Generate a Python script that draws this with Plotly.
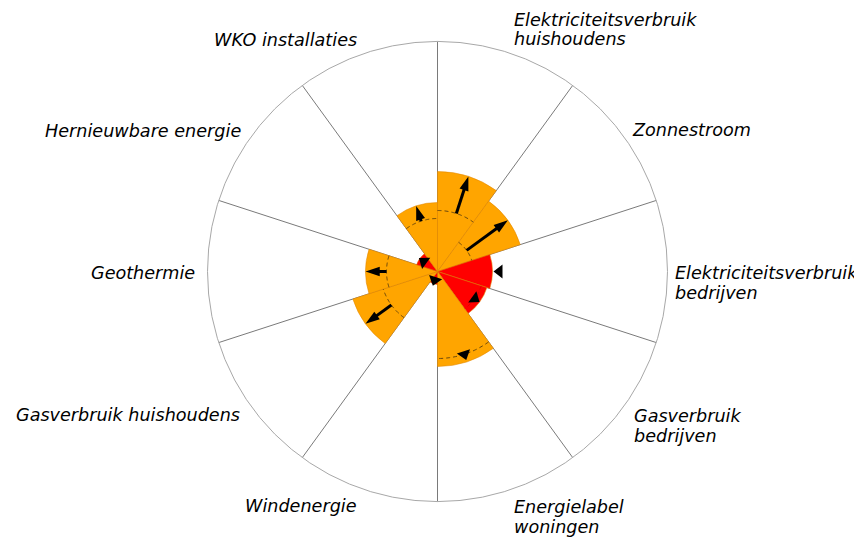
import plotly.graph_objects as go

# ---------------- data ----------------
categories = [
    "Elektriciteitsverbruik huishoudens", "Zonnestroom", "Elektriciteitsverbruik bedrijven",
    "Gasverbruik bedrijven", "Energielabel woningen", "Windenergie",
    "Gasverbruik huishoudens", "Geothermie", "Hernieuwbare energie", "WKO installaties",
]
current = [100, 87, 55, 52, 95, 13, 89, 72, 22, 69]
previous = [61, 36, 62, 46, 87, 9, 57, 51, 17, 53]
bar_colors = ["#FFA500", "#FFA500", "#FF0000", "#FF0000", "#FFA500",
              "#FF0000", "#FFA500", "#FFA500", "#FF0000", "#FFA500"]

# label lines and their placement (page pixel position of the text anchor)
label_lines = [
    ("Elektriciteitsverbruik", 512, 20, "left"), ("huishoudens", 512, 39, "left"),
    ("Zonnestroom", 630, 130, "left"),
    ("Elektriciteitsverbruik", 673, 273, "left"), ("bedrijven", 673, 293, "left"),
    ("Gasverbruik", 632, 416, "left"), ("bedrijven", 632, 436, "left"),
    ("Energielabel", 512, 507, "left"), ("woningen", 512, 527, "left"),
    ("Windenergie", 359, 506, "right"),
    ("Gasverbruik huishoudens", 242, 415, "right"),
    ("Geothermie", 197, 273, "right"),
    ("Hernieuwbare energie", 243, 131, "right"),
    ("WKO installaties", 359, 40, "right"),
]

PAGE_W, PAGE_H = 862, 544
OFF = 8  # default body margin of the html page
W, H = PAGE_W - OFF, PAGE_H - OFF
CX, CY, R = 437.5 - OFF, 271.5 - OFF, 230
SECTOR = 360 / len(categories)
ARROW_MIN = 12  # change above which an arrow is drawn instead of a triangle

thetas = [SECTOR / 2 + i * SECTOR for i in range(len(categories))]

fig = go.Figure()
fig.add_trace(go.Barpolar(
    r=current, theta=thetas, width=[SECTOR] * len(categories),
    marker=dict(color=bar_colors, line=dict(color="rgba(225,135,0,0.55)", width=1)),
    hoverinfo="skip",
))

dash_color = {"#FFA500": "rgba(80,55,15,0.85)", "#FF0000": "rgba(200,0,0,0.6)"}

for i, (cur, prev) in enumerate(zip(current, previous)):
    th = thetas[i]
    start = i * SECTOR
    if prev < cur:
        arc_t = [start + k * SECTOR / 36 for k in range(37)]
        fig.add_trace(go.Scatterpolar(
            r=[prev] * len(arc_t), theta=arc_t, mode="lines",
            line=dict(color=dash_color[bar_colors[i]], width=1, dash="4px,3px"),
            hoverinfo="skip",
        ))
    if abs(cur - prev) > ARROW_MIN:
        fig.add_trace(go.Scatterpolar(
            r=[prev, cur - 8], theta=[th, th], mode="lines",
            line=dict(color="black", width=3), hoverinfo="skip",
        ))
        fig.add_trace(go.Scatterpolar(
            r=[cur], theta=[th], mode="markers",
            marker=dict(symbol="arrow", size=15, color="black",
                        angle=th if cur > prev else th + 180),
            hoverinfo="skip",
        ))
    else:
        fig.add_trace(go.Scatterpolar(
            r=[prev], theta=[th], mode="markers",
            marker=dict(symbol="triangle-up", size=12, color="black",
                        angle=th if cur > prev else th + 180),
            hoverinfo="skip",
        ))

annotations = []
for text, px, py, anchor in label_lines:
    annotations.append(dict(
        text=text, x=(px - OFF) / W, y=1 - (py - OFF) / H, xref="paper", yref="paper",
        xanchor=anchor, yanchor="middle", showarrow=False,
        font=dict(family="DejaVu Sans", size=17.6, color="#000", style="italic"),
    ))

fig.update_layout(
    width=W, height=H, margin=dict(l=0, r=0, t=0, b=0),
    paper_bgcolor="white", showlegend=False,
    annotations=annotations,
    polar=dict(
        domain=dict(x=[(CX - R) / W, (CX + R) / W], y=[(H - CY - R) / H, (H - CY + R) / H]),
        bgcolor="white", bargap=0,
        angularaxis=dict(rotation=90, direction="clockwise", tickmode="linear", tick0=0,
                         dtick=SECTOR, showticklabels=False, ticks="",
                         gridcolor="#7a7a7a", gridwidth=1,
                         showline=True, linecolor="#a8a8a8", linewidth=1),
        radialaxis=dict(range=[0, R], showgrid=False, showline=False,
                        showticklabels=False, ticks=""),
    ),
)

fig.write_html("out.html")
